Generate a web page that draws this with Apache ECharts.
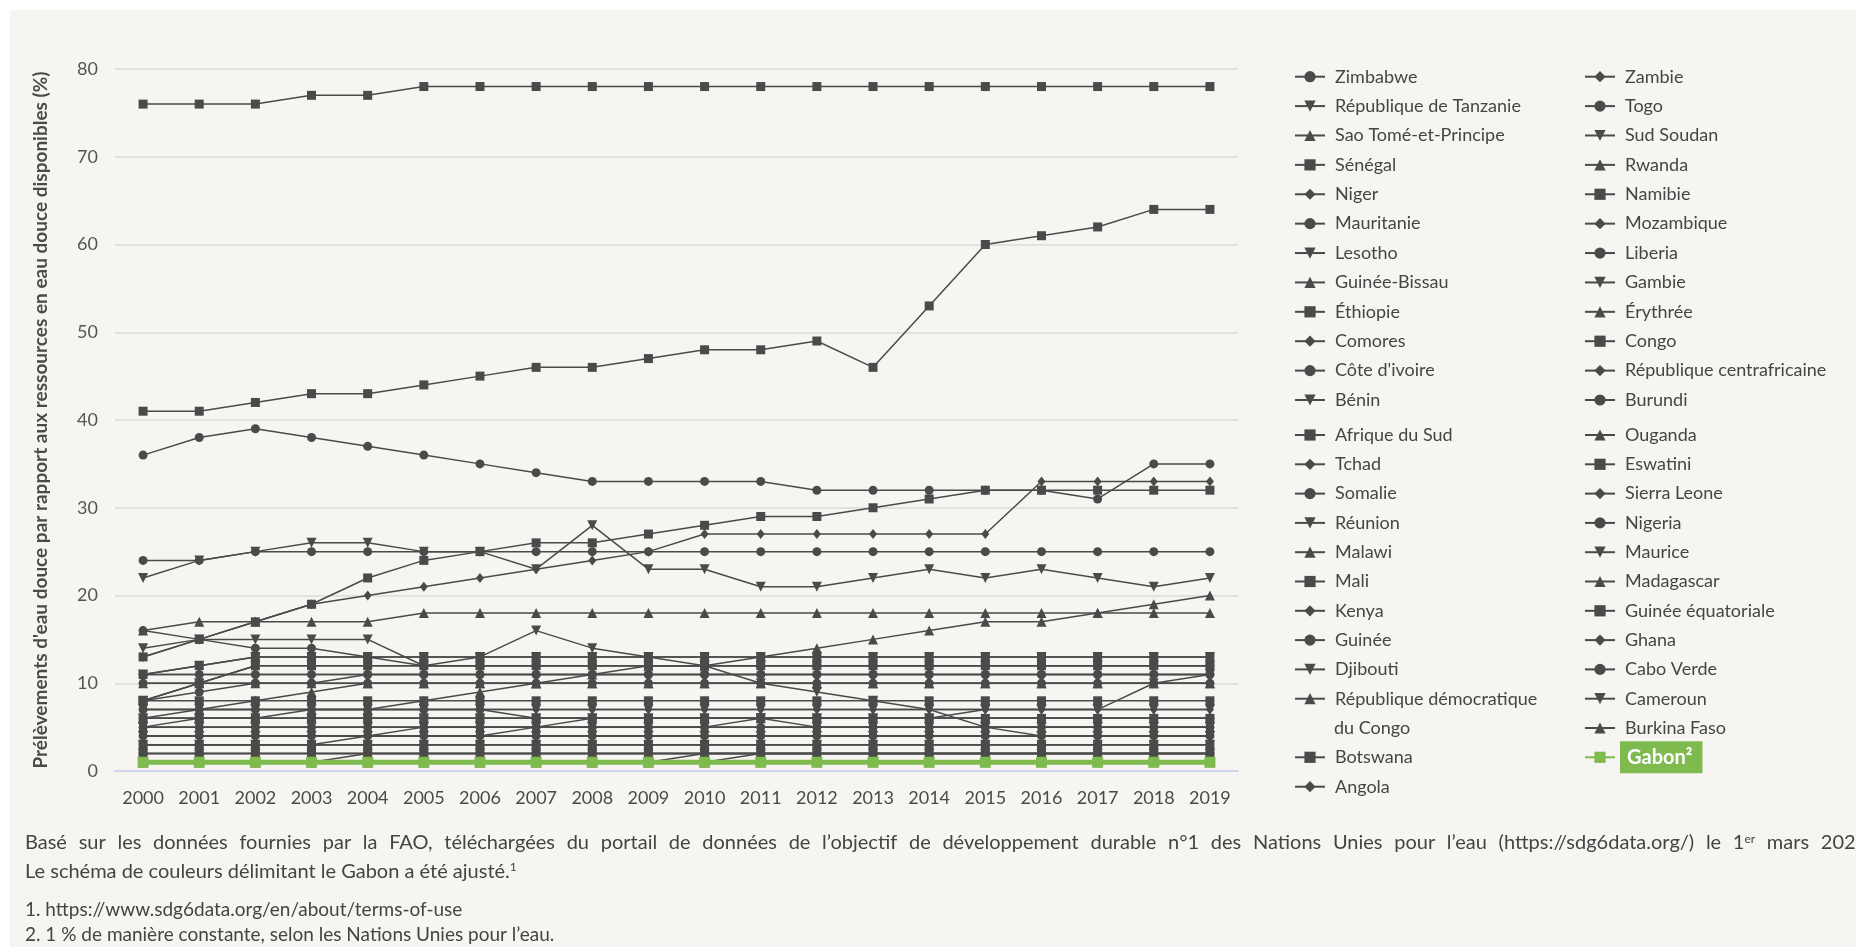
<!DOCTYPE html>
<html>
<head>
<meta charset="utf-8">
<script src="https://cdn.jsdelivr.net/npm/echarts@6/dist/echarts.min.js"></script>
<style>
  html, body { margin: 0; background: #fff; }
  #chart { width: 1856px; height: 947px; }
</style>
</head>
<body>
<div id="chart"></div>
<script>
const years = ['2000', '2001', '2002', '2003', '2004', '2005', '2006', '2007', '2008', '2009',
  '2010', '2011', '2012', '2013', '2014', '2015', '2016', '2017', '2018', '2019']

// prélèvements (%) par pays, 2000 -> 2019
const eswatini = [76, 76, 76, 77, 77, 78, 78, 78, 78, 78, 78, 78, 78, 78, 78, 78, 78, 78, 78, 78]
const afriqueDuSud = [41, 41, 42, 43, 43, 44, 45, 46, 46, 47, 48, 48, 49, 46, 53, 60, 61, 62, 64, 64]
const zimbabwe = [36, 38, 39, 38, 37, 36, 35, 34, 33, 33, 33, 33, 32, 32, 32, 32, 32, 31, 35, 35]
const kenya = [13, 15, 17, 19, 20, 21, 22, 23, 24, 25, 27, 27, 27, 27, 27, 27, 33, 33, 33, 33]
const senegal = [13, 15, 17, 19, 22, 24, 25, 26, 26, 27, 28, 29, 29, 30, 31, 32, 32, 32, 32, 32]
const maurice = [22, 24, 25, 26, 26, 25, 25, 23, 28, 23, 23, 21, 21, 22, 23, 22, 23, 22, 21, 22]
const somalie = [24, 24, 25, 25, 25, 25, 25, 25, 25, 25, 25, 25, 25, 25, 25, 25, 25, 25, 25, 25]
const malawi = [16, 17, 17, 17, 17, 18, 18, 18, 18, 18, 18, 18, 18, 18, 18, 18, 18, 18, 18, 18]
const mauritanie = [16, 15, 14, 14, 13, 12, 12, 12, 12, 12, 12, 12, 12, 12, 12, 12, 12, 12, 12, 12]
const djibouti = [14, 15, 15, 15, 15, 12, 13, 16, 14, 13, 12, 10, 9, 8, 7, 5, 4, 4, 4, 4]
const burkinaFaso = [5, 6, 6, 7, 7, 8, 9, 10, 11, 12, 12, 13, 14, 15, 16, 17, 17, 18, 19, 20]
const mali = [8, 10, 12, 12, 12, 12, 12, 12, 12, 12, 12, 12, 12, 12, 12, 12, 12, 12, 12, 12]
const lesotho = [8, 10, 12, 12, 12, 12, 12, 12, 12, 12, 12, 12, 12, 12, 12, 12, 12, 12, 12, 12]
const reunion = [11, 12, 13, 13, 13, 13, 13, 13, 13, 13, 13, 13, 13, 13, 13, 13, 13, 13, 13, 13]
const ethiopie = [11, 12, 13, 13, 13, 13, 13, 13, 13, 13, 13, 13, 13, 13, 13, 13, 13, 13, 13, 13]
const nigeria = [8, 9, 10, 10, 11, 11, 11, 11, 11, 11, 11, 11, 11, 11, 11, 11, 11, 11, 11, 11]
const madagascar = [6, 7, 8, 9, 10, 10, 10, 10, 10, 10, 10, 10, 10, 10, 10, 10, 10, 10, 10, 10]
const ghana = [3, 3, 3, 3, 4, 5, 5, 5, 5, 5, 5, 5, 5, 5, 5, 5, 5, 5, 5, 5]
const tchad = [4, 4, 4, 4, 4, 4, 4, 5, 6, 6, 6, 6, 6, 6, 6, 6, 6, 6, 6, 6]
const angola = [1, 1, 1, 1, 2, 2, 2, 2, 2, 2, 2, 2, 2, 2, 2, 2, 2, 2, 2, 2]
const zambie = [1, 1, 1, 1, 1, 1, 1, 1, 1, 1, 2, 2, 2, 2, 2, 2, 2, 2, 2, 2]
const guineeBissau = [1, 1, 1, 1, 1, 1, 1, 1, 1, 1, 1, 2, 2, 2, 2, 2, 2, 2, 2, 2]
const togo = [7, 7, 7, 7, 7, 7, 7, 6, 6, 6, 6, 6, 6, 6, 6, 6, 6, 6, 6, 6]
const cameroun = [5, 5, 5, 5, 5, 5, 5, 5, 5, 5, 5, 6, 5, 5, 5, 5, 5, 5, 5, 5]
const tanzanie = [6, 6, 6, 6, 6, 6, 6, 6, 6, 6, 6, 6, 6, 6, 6, 7, 7, 7, 10, 11]
const coteIvoire = [10, 10, 10, 10, 10, 10, 10, 10, 10, 10, 10, 10, 10, 10, 10, 10, 10, 10, 10, 10]
const guinee = [11, 11, 11, 11, 11, 11, 11, 11, 11, 11, 11, 11, 11, 11, 11, 11, 11, 11, 11, 11]
const liberia = [2, 2, 2, 2, 2, 2, 2, 2, 2, 2, 2, 2, 2, 2, 2, 2, 2, 2, 2, 2]
const burundi = [5, 5, 5, 5, 5, 5, 5, 5, 5, 5, 5, 5, 5, 5, 5, 5, 5, 5, 5, 5]
const caboVerde = [4, 4, 4, 4, 4, 4, 4, 4, 4, 4, 4, 4, 4, 4, 4, 4, 4, 4, 4, 4]
const benin = [3, 3, 3, 3, 3, 3, 3, 3, 3, 3, 3, 3, 3, 3, 3, 3, 3, 3, 3, 3]
const sudSoudan = [4, 4, 4, 4, 4, 4, 4, 4, 4, 4, 4, 4, 4, 4, 4, 4, 4, 4, 4, 4]
const gambie = [7, 7, 7, 7, 7, 7, 7, 7, 7, 7, 7, 7, 7, 7, 7, 7, 7, 7, 7, 7]
const saoTome = [1, 1, 1, 1, 1, 1, 1, 1, 1, 1, 1, 1, 1, 1, 1, 1, 1, 1, 1, 1]
const rdc = [3, 3, 3, 3, 3, 3, 3, 3, 3, 3, 3, 3, 3, 3, 3, 3, 3, 3, 3, 3]
const rwanda = [6, 6, 6, 6, 6, 6, 6, 6, 6, 6, 6, 6, 6, 6, 6, 6, 6, 6, 6, 6]
const erythree = [10, 10, 10, 10, 10, 10, 10, 10, 10, 10, 10, 10, 10, 10, 10, 10, 10, 10, 10, 10]
const ouganda = [5, 5, 5, 5, 5, 5, 5, 5, 5, 5, 5, 5, 5, 5, 5, 5, 5, 5, 5, 5]
const botswana = [2, 2, 2, 2, 2, 2, 2, 2, 2, 2, 2, 2, 2, 2, 2, 2, 2, 2, 2, 2]
const namibie = [8, 8, 8, 8, 8, 8, 8, 8, 8, 8, 8, 8, 8, 8, 8, 8, 8, 8, 8, 8]
const congo = [6, 6, 6, 6, 6, 6, 6, 6, 6, 6, 6, 6, 6, 6, 6, 6, 6, 6, 6, 6]
const guineeEq = [3, 3, 3, 3, 3, 3, 3, 3, 3, 3, 3, 3, 3, 3, 3, 3, 3, 3, 3, 3]
const niger = [7, 7, 7, 7, 7, 7, 7, 7, 7, 7, 7, 7, 7, 7, 7, 7, 7, 7, 7, 7]
const comores = [1, 1, 1, 1, 1, 1, 1, 1, 1, 1, 1, 1, 1, 1, 1, 1, 1, 1, 1, 1]
const mozambique = [4, 4, 4, 4, 4, 4, 4, 4, 4, 4, 4, 4, 4, 4, 4, 4, 4, 4, 4, 4]
const rca = [2, 2, 2, 2, 2, 2, 2, 2, 2, 2, 2, 2, 2, 2, 2, 2, 2, 2, 2, 2]
const sierraLeone = [11, 11, 11, 11, 11, 11, 11, 11, 11, 11, 11, 11, 11, 11, 11, 11, 11, 11, 11, 11]
const gabon = [1, 1, 1, 1, 1, 1, 1, 1, 1, 1, 1, 1, 1, 1, 1, 1, 1, 1, 1, 1]

const RDC = 'République démocratique du Congo'

// [nom, valeurs, marqueur]
const countries = [
  ['Eswatini', eswatini, 'sq'], ['Afrique du Sud', afriqueDuSud, 'sq'], ['Zimbabwe', zimbabwe, 'ci'],
  ['Kenya', kenya, 'di'], ['Sénégal', senegal, 'sq'], ['Maurice', maurice, 'dn'],
  ['Somalie', somalie, 'ci'], ['Malawi', malawi, 'up'], ['Mauritanie', mauritanie, 'ci'],
  ['Djibouti', djibouti, 'dn'], ['Burkina Faso', burkinaFaso, 'up'], ['Mali', mali, 'sq'],
  ['Lesotho', lesotho, 'dn'], ['Réunion', reunion, 'dn'], ['Éthiopie', ethiopie, 'sq'],
  ['Nigeria', nigeria, 'ci'], ['Madagascar', madagascar, 'up'], ['Ghana', ghana, 'di'],
  ['Tchad', tchad, 'di'], ['Angola', angola, 'di'], ['Zambie', zambie, 'di'],
  ['Guinée-Bissau', guineeBissau, 'up'], ['Togo', togo, 'ci'], ['Cameroun', cameroun, 'dn'],
  ['République de Tanzanie', tanzanie, 'dn'], ["Côte d'ivoire", coteIvoire, 'ci'], ['Guinée', guinee, 'ci'],
  ['Liberia', liberia, 'ci'], ['Burundi', burundi, 'ci'], ['Cabo Verde', caboVerde, 'ci'],
  ['Bénin', benin, 'dn'], ['Sud Soudan', sudSoudan, 'dn'], ['Gambie', gambie, 'dn'],
  ['Sao Tomé-et-Principe', saoTome, 'up'], [RDC, rdc, 'up'], ['Rwanda', rwanda, 'up'],
  ['Érythrée', erythree, 'up'], ['Ouganda', ouganda, 'up'], ['Botswana', botswana, 'sq'],
  ['Namibie', namibie, 'sq'], ['Congo', congo, 'sq'], ['Guinée équatoriale', guineeEq, 'sq'],
  ['Niger', niger, 'di'], ['Comores', comores, 'di'], ['Mozambique', mozambique, 'di'],
  ['République centrafricaine', rca, 'di'], ['Sierra Leone', sierraLeone, 'di']
]

const legendCol1a = ['Zimbabwe', 'République de Tanzanie', 'Sao Tomé-et-Principe', 'Sénégal', 'Niger', 'Mauritanie',
  'Lesotho', 'Guinée-Bissau', 'Éthiopie', 'Comores', "Côte d'ivoire", 'Bénin']
const legendCol1b = ['Afrique du Sud', 'Tchad', 'Somalie', 'Réunion', 'Malawi', 'Mali', 'Kenya', 'Guinée', 'Djibouti', RDC]
const legendCol1c = ['Botswana', 'Angola']
const legendCol2a = ['Zambie', 'Togo', 'Sud Soudan', 'Rwanda', 'Namibie', 'Mozambique', 'Liberia', 'Gambie',
  'Érythrée', 'Congo', 'République centrafricaine', 'Burundi']
const legendCol2b = ['Ouganda', 'Eswatini', 'Sierra Leone', 'Nigeria', 'Maurice', 'Madagascar',
  'Guinée équatoriale', 'Ghana', 'Cabo Verde', 'Cameroun', 'Burkina Faso']

const source = 'Basé sur les données fournies par la FAO, téléchargées du portail de données de l’objectif de développement durable n°1 des Nations Unies pour l’eau (https://sdg6data.org/) le 1{sup|er} mars 2021.'

const GREY = '#4a4a4a'
const GREEN = '#7fba4f'
const FONT = 'Lato'

const marks = {
  ci: { symbol: 'circle', symbolSize: 9 },
  sq: { symbol: 'rect', symbolSize: 9 },
  up: { symbol: 'triangle', symbolSize: 10 },
  dn: { symbol: 'triangle', symbolSize: 10, symbolRotate: 180 },
  di: { symbol: 'diamond', symbolSize: [8, 10] }
}

const series = countries.map(([name, data, m]) => ({
  name,
  type: 'line',
  data,
  ...marks[m],
  lineStyle: { color: GREY, width: 1.5 },
  itemStyle: { color: GREY },
  silent: true,
  animation: false
}))
series.push({
  name: 'Gabon²',
  type: 'line',
  data: gabon,
  symbol: 'rect',
  symbolSize: 11,
  lineStyle: { color: GREEN, width: 5 },
  itemStyle: { color: GREEN },
  z: 5,
  silent: true,
  animation: false
})

function legendBlock(names, left, top, gap) {
  return {
    data: names,
    orient: 'vertical',
    left,
    top,
    itemGap: gap,
    itemWidth: 30,
    itemHeight: 14,
    padding: 0,
    selectedMode: false,
    formatter: (n) => (n === RDC ? 'République démocratique' : n),
    textStyle: { fontFamily: FONT, fontSize: 18, color: '#454545', lineHeight: 20, padding: [0, 0, 0, 5] }
  }
}

const sup = { fontSize: 12, fontFamily: FONT, fill: '#444', verticalAlign: 'top' }

const chart = echarts.init(document.getElementById('chart'))
chart.setOption({
  backgroundColor: '#f6f5f1',
  animation: false,
  grid: { left: 115, right: 618, top: 69, bottom: 176 },
  xAxis: {
    type: 'category',
    data: years,
    boundaryGap: true,
    axisTick: { show: false },
    axisLine: { lineStyle: { color: '#cdd6ea', width: 2 } },
    axisLabel: { color: GREY, fontFamily: FONT, fontSize: 18, margin: 18, interval: 0 }
  },
  yAxis: {
    type: 'value',
    min: 0,
    max: 80,
    interval: 10,
    name: "Prélèvements d'eau douce par rapport aux ressources en eau douce disponibles (%)",
    nameLocation: 'middle',
    nameGap: 65,
    nameTextStyle: { color: GREY, fontFamily: FONT, fontSize: 19, fontWeight: 'bold' },
    axisLine: { show: false },
    axisTick: { show: false },
    axisLabel: { color: '#555', fontFamily: FONT, fontSize: 18, margin: 17 },
    splitLine: { lineStyle: { color: '#dadada', width: 1.5 } }
  },
  legend: [
    legendBlock(legendCol1a, 1294, 66.7, 9.39),
    legendBlock(legendCol1b, 1294, 425, 9.3),
    legendBlock(legendCol1c, 1294, 747.3, 9.4),
    legendBlock(legendCol2a, 1584, 66.7, 9.39),
    legendBlock(legendCol2b, 1584, 425, 9.3),
    {
      data: [{
        name: 'Gabon²',
        textStyle: { color: '#fff', fontWeight: 'bold', fontSize: 20, backgroundColor: GREEN, padding: [6, 10, 6, 7] }
      }],
      orient: 'vertical', left: 1584, top: 741.3, itemWidth: 30, itemHeight: 14, padding: 0, selectedMode: false,
      textStyle: { fontFamily: FONT, lineHeight: 20 }
    }
  ],
  graphic: [
    { type: 'rect', shape: { x: 0, y: 0, width: 1856, height: 10 }, style: { fill: '#fff' }, silent: true },
    { type: 'rect', shape: { x: 0, y: 0, width: 10, height: 947 }, style: { fill: '#fff' }, silent: true },
    {
      type: 'text', x: 1334, y: 728.3, silent: true,
      style: { text: 'du Congo', font: '18px Lato', fill: '#454545', verticalAlign: 'middle' }
    },
    {
      // ligne justifiée : espaces élargis
      type: 'text', x: 25, y: 843, silent: true,
      style: {
        text: source.split(' ').join('{sp| }'),
        font: '20px Lato', fill: '#444', verticalAlign: 'middle',
        rich: { sup, sp: { width: 11.7, fontSize: 20, fontFamily: FONT } }
      }
    },
    {
      type: 'text', x: 25, y: 871.5, silent: true,
      style: {
        text: 'Le schéma de couleurs délimitant le Gabon a été ajusté.{sup|1}',
        font: '20px Lato', fill: '#444', verticalAlign: 'middle',
        rich: { sup }
      }
    },
    {
      type: 'text', x: 25, y: 910, silent: true,
      style: { text: '1. https://www.sdg6data.org/en/about/terms-of-use', font: '19px Lato', fill: '#444', verticalAlign: 'middle' }
    },
    {
      type: 'text', x: 25, y: 935, silent: true,
      style: { text: '2. 1 % de manière constante, selon les Nations Unies pour l’eau.', font: '19px Lato', fill: '#444', verticalAlign: 'middle' }
    }
  ],
  series
})
</script>
</body>
</html>
